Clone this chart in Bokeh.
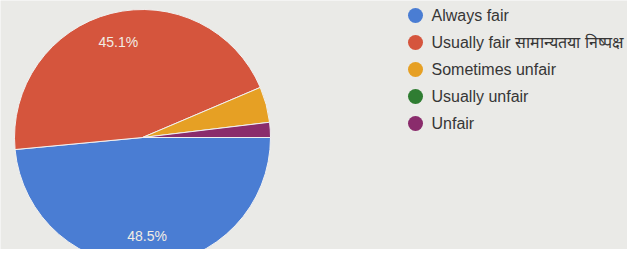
import math
from bokeh.plotting import figure
from bokeh.models import Range1d, ColumnDataSource
from bokeh.core.properties import value
from bokeh.embed import file_html
from bokeh.resources import INLINE

categories = ["Always fair", "Usually fair सामान्यतया निष्पक्ष", "Sometimes unfair", "Usually unfair", "Unfair"]
percents = [48.5, 45.1, 4.5, 0.0, 1.9]
colors = ["#4a7dd3", "#d5553d", "#e6a024", "#2f7d32", "#8a2c6c"]
shown_labels = ["48.5%", "45.1%", "", "", ""]

W, H = 627, 249
p = figure(width=W, height=H, output_backend="svg", toolbar_location=None,
           x_range=Range1d(0, W), y_range=Range1d(265 - H, 265),
           min_border=0)
p.axis.visible = False
p.grid.visible = False
p.outline_line_color = None
p.background_fill_color = "#eaeae7"
p.border_fill_color = "#eaeae7"

cx, cy, r = 142, 265 - 137, 128
total = sum(percents)
d = dict(start=[], end=[], color=[], lx=[], ly=[], lab=[])
a = 0.0
for v, c, lab in zip(percents, colors, shown_labels):
    s = a
    e = a - v / total * 2 * math.pi
    a = e
    if v <= 0:
        continue
    mid = (s + e) / 2
    d["start"].append(s)
    d["end"].append(e)
    d["color"].append(c)
    d["lx"].append(cx + 0.77 * r * math.cos(mid))
    d["ly"].append(cy + 0.77 * r * math.sin(mid))
    d["lab"].append(lab)

src = ColumnDataSource(d)
p.wedge(x=cx, y=cy, radius=r, start_angle="start", end_angle="end", direction="clock",
        fill_color="color", line_color="#f0f0f0", line_width=1, source=src)
p.text(x="lx", y="ly", text="lab", source=src, text_color="#f1ece4", text_font=value("Arial"),
       text_font_size="14px", text_align="center", text_baseline="middle")

# legend
ys = [265 - 15, 265 - 42, 265 - 69, 265 - 96, 265 - 123]
lsrc = ColumnDataSource(dict(x=[415] * 5, y=ys, c=colors, t=categories, tx=[431] * 5))
p.scatter(x="x", y="y", size=15, fill_color="c", line_color=None, source=lsrc)
p.text(x="tx", y="y", text="t", source=lsrc, text_color="#363636", text_font=value("Arial"),
       text_font_size="16px", text_baseline="middle")

open("out.html", "w").write(file_html(p, INLINE))
